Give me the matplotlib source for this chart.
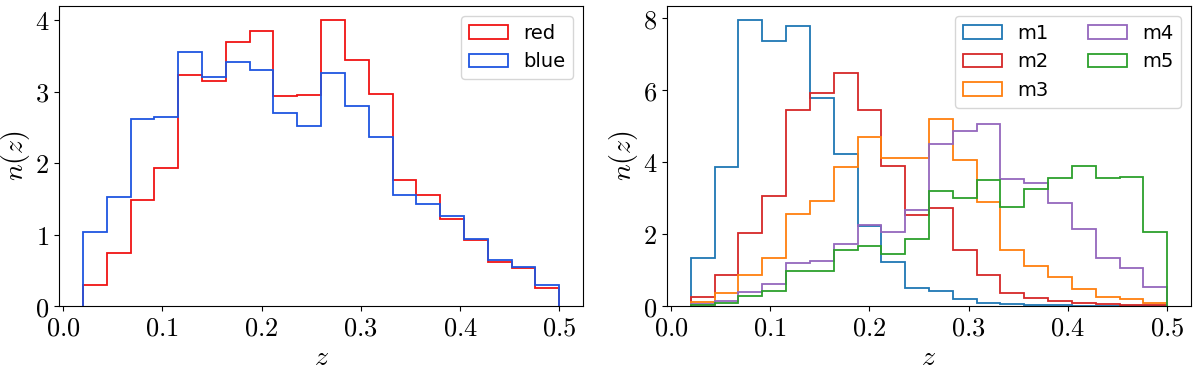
import numpy as np
import matplotlib
matplotlib.use("Agg")
import matplotlib.pyplot as plt
from matplotlib.ticker import StrMethodFormatter

plt.rcParams["mathtext.fontset"] = "cm"

# bin edges in z (20 bins from 0.02 to 0.5)
edges = np.linspace(0.02, 0.5, 21)
centers = 0.5 * (edges[:-1] + edges[1:])

# left panel
nz_red = [0.30, 0.74, 1.49, 1.93, 3.23, 3.15, 3.69, 3.85, 2.94, 2.96,
          4.00, 3.44, 2.97, 1.77, 1.55, 1.22, 0.93, 0.62, 0.53, 0.25]
nz_blue = [1.03, 1.53, 2.62, 2.64, 3.56, 3.21, 3.41, 3.30, 2.70, 2.52,
           3.26, 2.80, 2.37, 1.56, 1.43, 1.26, 0.94, 0.64, 0.54, 0.29]

# right panel
m1 = [1.33, 3.87, 7.94, 7.36, 7.78, 5.78, 4.23, 2.21, 1.21, 0.51,
      0.43, 0.19, 0.09, 0.05, 0.03, 0.02, 0.01, 0.006, 0.005, 0.004]
m2 = [0.25, 0.85, 2.04, 3.07, 5.44, 5.92, 6.48, 5.45, 3.90, 2.54,
      2.71, 1.57, 0.85, 0.36, 0.21, 0.13, 0.07, 0.05, 0.04, 0.02]
m3 = [0.11, 0.36, 0.87, 1.34, 2.55, 2.92, 3.87, 4.71, 4.11, 4.12,
      5.20, 4.05, 2.88, 1.55, 1.11, 0.81, 0.48, 0.26, 0.19, 0.07]
m4 = [0.05, 0.15, 0.38, 0.60, 1.19, 1.26, 1.71, 2.25, 2.05, 2.68,
      4.51, 4.86, 5.07, 3.53, 3.41, 2.85, 2.14, 1.34, 1.06, 0.53]
m5 = [0.04, 0.09, 0.27, 0.43, 0.98, 0.96, 1.56, 1.67, 1.44, 1.85,
      3.21, 3.01, 3.51, 2.76, 3.26, 3.57, 3.88, 3.57, 3.59, 2.06]

fig = plt.figure(figsize=(12, 3.69), dpi=100)
ax1 = fig.add_axes([0.0492, 0.1707, 0.4367, 0.813])
ax2 = fig.add_axes([0.5558, 0.1707, 0.4367, 0.813])

ax1.hist(centers, bins=edges, weights=nz_red, histtype="step", color="#f01414", lw=1.3, label="red")
ax1.hist(centers, bins=edges, weights=nz_blue, histtype="step", color="#1f55e0", lw=1.3, label="blue")

series = [("m1", m1, "tab:blue"), ("m2", m2, "tab:red"), ("m3", m3, "tab:orange"),
          ("m4", m4, "tab:purple"), ("m5", m5, "tab:green")]
for name, vals, col in series:
    ax2.hist(centers, bins=edges, weights=vals, histtype="step", color=col, lw=1.3, label=name)

for ax in (ax1, ax2):
    ax.set_xticks([0.0, 0.1, 0.2, 0.3, 0.4, 0.5])
    ax.xaxis.set_major_formatter(StrMethodFormatter("${x:.1f}$"))
    ax.yaxis.set_major_formatter(StrMethodFormatter("${x:.0f}$"))
    ax.tick_params(labelsize=19)
    ax.set_xlabel("$z$", fontsize=20, labelpad=1)
    ax.set_ylabel("$n(z)$", fontsize=20, labelpad=2)

ax1.legend(loc="upper right", fontsize=14)
ax2.legend(loc="upper right", fontsize=14, ncol=2)

fig.savefig("out.png", dpi=100)
